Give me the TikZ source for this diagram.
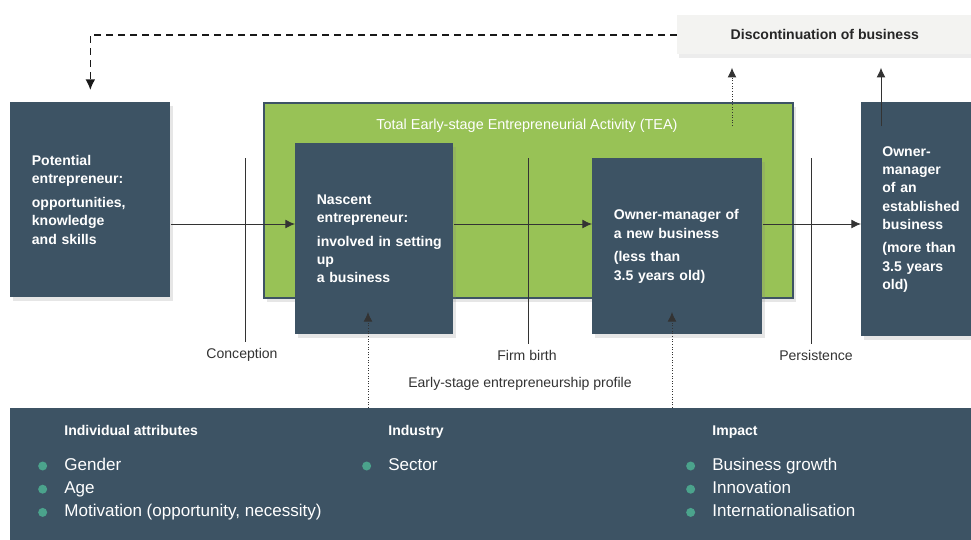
\documentclass[tikz,border=0pt]{standalone}
\usepackage{fontspec}
\setmainfont{Liberation Sans}
\usetikzlibrary{positioning,arrows.meta,shadows}
\definecolor{gemslate}{HTML}{3D5364}
\definecolor{teagreen}{HTML}{98C256}
\definecolor{dotteal}{HTML}{4BA38C}
\definecolor{discgray}{HTML}{F3F3F1}
\definecolor{linegray}{HTML}{333333}

\begin{document}
\begin{tikzpicture}[x=0.02cm,y=-0.02cm,
box/.style={fill=gemslate,text=white,anchor=north west,align=left,
    inner xsep=0.43cm,font=\fontsize{8}{10.4}\selectfont\bfseries,
    drop shadow={opacity=.2,shadow xshift=1.5pt,shadow yshift=-2pt}},
tick/.style={draw=linegray,line width=0.5pt},
ticklabel/.style={text=linegray,font=\fontsize{8}{10}\selectfont},
flowarr/.style={draw=linegray,line width=0.5pt,-{Latex[length=5.5pt,width=5pt]}},
dotarr/.style={draw=linegray,line width=0.5pt,densely dotted,-{Latex[length=5.5pt,width=5pt]}},
head/.style={anchor=west,inner sep=0pt,text=white,text height=6pt,text depth=2pt,
    font=\fontsize{8}{10}\selectfont\bfseries},
dot/.style={circle,fill=dotteal,inner sep=0pt,minimum size=0.18cm},
item/.style={anchor=west,inner sep=0pt,text=white,text height=7pt,text depth=2pt,
    font=\fontsize{9.7}{11}\selectfont,label={[dot,xshift=-0.33cm]left:{}}}]
\useasboundingbox (0,0) rectangle (971,539);

% discontinuation and feedback loop
\node (disc) [fill=discgray,anchor=north west,minimum width=5.9cm,minimum height=0.78cm,
    font=\fontsize{8}{10}\selectfont\bfseries,text=black!85,
    drop shadow={opacity=.15,shadow xshift=1pt,shadow yshift=-2pt}] at (677,15)
    {Discontinuation of business};

% stage boxes
\node (tea) [fill=teagreen,draw=gemslate,line width=1.2pt,anchor=north west,
    minimum width=10.58cm,minimum height=3.9cm,
    drop shadow={opacity=.2,shadow xshift=1.5pt,shadow yshift=-2pt}] at (263,102) {};
\node (teatitle) [text=white,font=\fontsize{8.2}{10}\selectfont] at (527,126)
    {Total Early-stage Entrepreneurial Activity (TEA)};

\node (pot) [box,minimum width=3.2cm,minimum height=3.9cm,text width=2.34cm] at (10,102)
    {Potential\\entrepreneur:\\[3pt]opportunities,\\knowledge\\and skills};
\node (nasc) [box,minimum width=3.16cm,minimum height=3.82cm,text width=2.3cm] at (295,143)
    {Nascent\\entrepreneur:\\[3pt]\mbox{involved in setting}\\up\\a business};
\node (ownnew) [box,minimum width=3.4cm,minimum height=3.52cm,text width=2.54cm] at (592,158)
    {Owner-manager of\\a new business\\[3pt](less than\\3.5 years old)};
\node (estab) [box,minimum width=2.3cm,minimum height=4.68cm,text width=1.75cm,
    inner xsep=0.42cm] at (861,102)
    {Owner-\\manager\\of an\\established\\business\\[3pt](more than\\3.5 years\\old)};

% transitions
\node (concep) [ticklabel] at (242,355) {Conception};
\node (birth) [ticklabel] at (527,355) {Firm birth};
\node (persist) [ticklabel] at (816,355) {Persistence};
\node (profile) [ticklabel] at (520,384) {Early-stage entrepreneurship profile};
\coordinate (conceptop) at (245,158);
\coordinate (birthtop) at (528,158);
\coordinate (persisttop) at (811,158);
\draw[tick] (conceptop) -- (conceptop |- concep.north);
\draw[tick] (birthtop) -- (birthtop |- birth.north);
\draw[tick] (persisttop) -- (persisttop |- persist.north);

\coordinate (flow) at (0,224);
\draw[flowarr] (pot.east |- flow) -- (nasc.west |- flow);
\draw[flowarr] (nasc.east |- flow) -- (ownnew.west |- flow);
\draw[flowarr] (ownnew.east |- flow) -- (estab.west |- flow);

\draw[draw=black!90,line width=0.85pt,dash pattern=on 0.14cm off 0.1cm,
    -{Latex[length=6pt,width=5.5pt]},shorten >=0.24cm] (disc.west) -| (pot.north);
\coordinate (teaout) at (732,126);
\coordinate (estabout) at (881,126);
\draw[dotarr,shorten >=0.26cm] (teaout) -- (teaout |- disc.south);
\draw[flowarr,shorten >=0.26cm] (estabout) -- (estabout |- disc.south);

% profile panel
\node (panel) [fill=gemslate,anchor=north west,minimum width=19.8cm,minimum height=3.1cm] at (10,408) {};
\coordinate (nascin) at (368,312);
\coordinate (newin) at (672,312);
\draw[dotarr] (nascin |- panel.north) -- (nascin);
\draw[dotarr] (newin |- panel.north) -- (newin);

\node (hindiv) [head] at (64,432) {Individual attributes};
\node (hind) [head] at (388,432) {Industry};
\node (himp) [head] at (712,432) {Impact};

\node (gender) [item] at (64,466) {Gender};
\node (age) [item,below=3.8pt of gender.south west,anchor=north west] {Age};
\node (motiv) [item,below=3.8pt of age.south west,anchor=north west] {Motivation (opportunity, necessity)};
\node (sector) [item] at (388,466) {Sector};
\node (growth) [item] at (712,466) {Business growth};
\node (innov) [item,below=3.8pt of growth.south west,anchor=north west] {Innovation};
\node (intl) [item,below=3.8pt of innov.south west,anchor=north west] {Internationalisation};
\end{tikzpicture}
\end{document}
